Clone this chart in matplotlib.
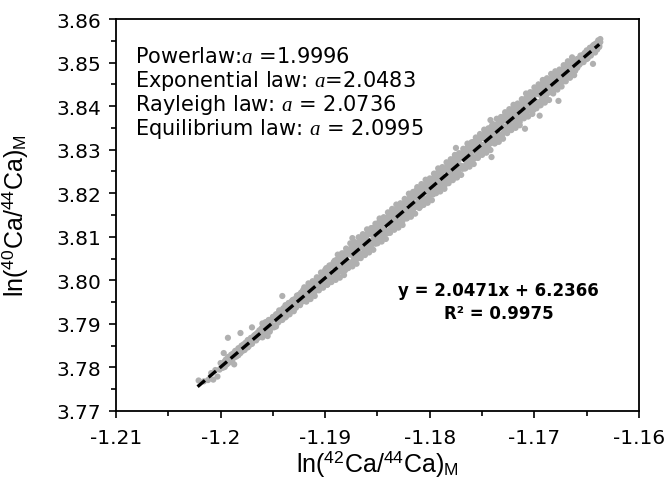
import numpy as np
import matplotlib
matplotlib.use('Agg')
import matplotlib.pyplot as plt
from matplotlib.ticker import MultipleLocator

# ---------------- data (values in units of 1e-4) ----------------
x_band_e4 = [
    -11996, -11995, -11994, -11993, -11992, -11991, -11990, -11989, -11988, -11987, -11986, -11985, -11984, -11983, -11982, -11981, -11980, -11979, -11978, -11977,
    -11976, -11975, -11974, -11973, -11972, -11971, -11970, -11969, -11968, -11967, -11966, -11965, -11964, -11963, -11962, -11961, -11960, -11959, -11958, -11957,
    -11956, -11955, -11954, -11953, -11952, -11951, -11950, -11949, -11948, -11947, -11946, -11945, -11944, -11943, -11942, -11941, -11940, -11939, -11938, -11937,
    -11936, -11935, -11934, -11933, -11932, -11931, -11930, -11929, -11928, -11927, -11926, -11925, -11924, -11923, -11922, -11921, -11920, -11919, -11918, -11917,
    -11916, -11915, -11914, -11913, -11912, -11911, -11910, -11909, -11908, -11907, -11906, -11905, -11904, -11903, -11902, -11901, -11900, -11899, -11898, -11897,
    -11896, -11895, -11894, -11893, -11892, -11891, -11890, -11889, -11888, -11887, -11886, -11885, -11884, -11883, -11882, -11881, -11880, -11879, -11878, -11877,
    -11876, -11875, -11874, -11873, -11872, -11871, -11870, -11869, -11868, -11867, -11866, -11865, -11864, -11863, -11862, -11861, -11860, -11859, -11858, -11857,
    -11856, -11855, -11854, -11853, -11852, -11851, -11850, -11849, -11848, -11847, -11846, -11845, -11844, -11843, -11842, -11841, -11840, -11839, -11838, -11837,
    -11836, -11835, -11834, -11833, -11832, -11831, -11830, -11829, -11828, -11827, -11826, -11825, -11824, -11823, -11822, -11821, -11820, -11819, -11818, -11817,
    -11816, -11815, -11814, -11813, -11812, -11811, -11810, -11809, -11808, -11807, -11806, -11805, -11804, -11803, -11802, -11801, -11800, -11799, -11798, -11797,
    -11796, -11795, -11794, -11793, -11792, -11791, -11790, -11789, -11788, -11787, -11786, -11785, -11784, -11783, -11782, -11781, -11780, -11779, -11778, -11777,
    -11776, -11775, -11774, -11773, -11772, -11771, -11770, -11769, -11768, -11767, -11766, -11765, -11764, -11763, -11762, -11761, -11760, -11759, -11758, -11757,
    -11756, -11755, -11754, -11753, -11752, -11751, -11750, -11749, -11748, -11747, -11746, -11745, -11744, -11743, -11742, -11741, -11740, -11739, -11738, -11737,
    -11736, -11735, -11734, -11733, -11732, -11731, -11730, -11729, -11728, -11727, -11726, -11725, -11724, -11723, -11722, -11721, -11720, -11719, -11718, -11717,
    -11716, -11715, -11714, -11713, -11712, -11711, -11710, -11709, -11708, -11707, -11706, -11705, -11704, -11703, -11702, -11701, -11700, -11699, -11698, -11697,
    -11696, -11695, -11694, -11693, -11692, -11691, -11690, -11689, -11688, -11687, -11686, -11685, -11684, -11683, -11682, -11681, -11680, -11679, -11678, -11677,
    -11676, -11675, -11674, -11673, -11672, -11671, -11670, -11669, -11668, -11667, -11666, -11665, -11664, -11663, -11662, -11661, -11660, -11659, -11658, -11657,
    -11656, -11655, -11654, -11653, -11652, -11651, -11650, -11649, -11648, -11647, -11646, -11645, -11644, -11643, -11642, -11641, -11640, -11639, -11638, -11637,
]
# first pass of readings along the band
y_band_a_e4 = [
    37814, 37810, 37807, 37818, 37824, 37815, 37822, 37816,
    37830, 37825, 37836, 37827, 37836, 37844, 37838, 37833, 37846, 37841, 37853, 37848, 37845, 37855, 37846, 37862, 37856, 37865, 37856, 37865, 37873, 37864,
    37870, 37878, 37868, 37881, 37875, 37883,
    37892, 37883, 37877, 37894, 37903, 37886, 37897, 37885, 37907, 37896, 37913, 37896, 37910, 37922, 37910,
    37903, 37923, 37913, 37931, 37922, 37916, 37931, 37915, 37940, 37929, 37942, 37926, 37940, 37952, 37936, 37942, 37955, 37937, 37956, 37944, 37958,
    37966, 37957, 37951, 37968, 37977, 37960, 37971, 37959, 37981, 37970, 37987, 37970, 37984, 37996, 37984, 37976, 37996, 37986, 38004, 37995, 37989, 38004,
    37989, 38014, 38002, 38019, 37997, 38015, 38030, 38008, 38016, 38032, 38007, 38032, 38016, 38033, 38042, 38029, 38020, 38043, 38054, 38031, 38044,
    38029, 38057, 38043, 38065, 38041, 38059, 38074, 38058, 38046, 38072, 38058, 38082, 38069, 38060, 38079, 38058, 38090, 38075, 38092, 38070, 38088,
    38104, 38082, 38090, 38106, 38081, 38106, 38090, 38107, 38116, 38103, 38094, 38117, 38128, 38105, 38118, 38102, 38130, 38116, 38138, 38114, 38132,
    38148, 38132, 38120, 38146, 38132, 38156, 38143, 38134, 38153, 38132, 38164, 38149, 38166, 38144, 38162, 38177, 38155, 38163, 38179, 38154, 38179, 38163,
    38181, 38190, 38177, 38168, 38191, 38202, 38179, 38192, 38176, 38204, 38190, 38212, 38188, 38206, 38221, 38205, 38193, 38219, 38205, 38229, 38216,
    38208, 38227, 38206, 38238, 38223, 38240, 38218, 38236, 38251, 38229, 38237, 38253, 38228, 38253, 38237, 38254, 38263, 38250, 38241, 38264, 38275,
    38253, 38266, 38250, 38278, 38264, 38286, 38262, 38280, 38295, 38279, 38267, 38293, 38279, 38303, 38290, 38281, 38300, 38279, 38311, 38296, 38313,
    38292, 38310, 38325, 38303, 38311, 38327, 38302, 38327, 38311, 38328, 38337, 38324, 38315, 38338, 38349, 38326, 38339, 38323, 38351, 38337, 38359, 38335,
    38354, 38369, 38353, 38341, 38367, 38353, 38377, 38364, 38355, 38374, 38353, 38385, 38370, 38387, 38365, 38383, 38398, 38376, 38384, 38400, 38375,
    38401, 38385, 38402, 38411, 38398, 38389, 38412, 38423, 38400, 38413, 38397, 38425, 38411, 38433, 38409, 38427, 38442, 38426, 38414, 38440, 38426,
    38447, 38438, 38432, 38447, 38431, 38456, 38445, 38458, 38442, 38456, 38468, 38452, 38458, 38471, 38453, 38472, 38460, 38474, 38481, 38472, 38466, 38483,
    38493, 38476, 38487, 38475, 38497, 38486, 38503, 38486, 38499, 38508, 38500, 38495, 38510, 38503, 38517, 38511, 38507, 38518, 38508, 38526, 38519,
    38530, 38519, 38530, 38539, 38528, 38533, 38543, 38530, 38544, 38536, 38547,
]
# second pass of readings along the band
y_band_b_e4 = [
    37801, 37818, 37810, 37824, 37811, 37821, 37829, 37814,
    37832, 37823, 37838, 37825, 37838, 37828, 37844, 37838, 37850, 37838, 37850, 37840, 37857, 37848, 37863, 37849, 37860, 37868, 37854, 37869, 37862, 37875,
    37862, 37879, 37870, 37885, 37877, 37889,
    37869, 37898, 37881, 37904, 37880, 37897, 37909, 37882, 37909, 37893, 37916, 37892, 37913, 37894, 37922,
    37910, 37931, 37908, 37928, 37909, 37936, 37919, 37943, 37918, 37935, 37948, 37922, 37947, 37934, 37955, 37929, 37957, 37939, 37965, 37948, 37967,
    37943, 37972, 37955, 37978, 37954, 37971, 37983, 37956, 37983, 37967, 37990, 37966, 37987, 37968, 37996, 37983, 38004, 37981, 38001, 37982, 38009, 37992,
    38017, 37992,
    38010, 38028, 37990, 38025, 38005, 38034, 37996, 38035, 38009, 38045, 38020, 38047, 38010, 38050, 38026, 38058, 38022, 38046, 38062,
    38023, 38061, 38037, 38070, 38035, 38064, 38036, 38075, 38056, 38084, 38051, 38078, 38050, 38088, 38063, 38097, 38060, 38083, 38101, 38063, 38098,
    38079, 38108, 38070, 38109, 38083, 38119, 38094, 38121, 38084, 38124, 38100, 38132, 38096, 38120, 38136, 38096, 38134, 38110, 38143, 38108, 38137,
    38110, 38149, 38130, 38158, 38125, 38152, 38124, 38162, 38137, 38171, 38134, 38157, 38175, 38137, 38172, 38152, 38181, 38143, 38182, 38156, 38192, 38167,
    38195, 38158, 38198, 38174, 38206, 38170, 38194, 38210, 38170, 38208, 38184, 38217, 38182, 38211, 38183, 38222, 38203, 38231, 38198, 38225, 38197,
    38236, 38211, 38245, 38208, 38231, 38249, 38211, 38246, 38226, 38255, 38217, 38256, 38230, 38266, 38241, 38268, 38231, 38271, 38247, 38279, 38243,
    38268, 38284, 38244, 38282, 38258, 38291, 38256, 38285, 38257, 38296, 38277, 38305, 38272, 38299, 38271, 38309, 38284, 38318, 38281, 38304, 38322,
    38285, 38320, 38300, 38329, 38291, 38330, 38304, 38340, 38315, 38342, 38305, 38345, 38321, 38353, 38317, 38341, 38357, 38317, 38355, 38331, 38364, 38329,
    38359, 38331, 38370, 38351, 38379, 38346, 38373, 38345, 38383, 38358, 38392, 38355, 38378, 38396, 38358, 38393, 38373, 38402, 38364, 38403, 38377,
    38414, 38389, 38416, 38379, 38419, 38395, 38427, 38391, 38415, 38431, 38391, 38429, 38405, 38438, 38403, 38428, 38402, 38439, 38424, 38452, 38419,
    38444, 38424, 38453, 38434, 38461, 38433, 38451, 38465, 38437, 38464, 38449, 38472, 38443, 38473, 38454, 38482, 38463, 38484, 38457, 38488, 38470, 38495,
    38469, 38488, 38500, 38470, 38500, 38482, 38507, 38481,
    38502, 38488, 38509, 38500, 38516, 38500, 38515, 38501, 38522, 38510, 38528, 38510, 38523,
    38534, 38516, 38535, 38525, 38541, 38523, 38544, 38531, 38551, 38539, 38554,
]
# third pass: outer edge of the band in the dense middle part
x_edge_e4 = [
    -11920, -11918, -11916, -11914, -11912, -11910, -11908, -11906, -11904, -11902, -11900, -11898, -11896, -11894, -11892, -11890, -11888, -11886, -11884, -11882,
    -11880, -11878, -11876, -11874, -11872, -11870, -11868, -11866, -11864, -11862, -11860, -11858, -11856, -11854, -11852, -11850, -11848, -11846, -11844, -11842,
    -11840, -11838, -11836, -11834, -11832, -11830, -11828, -11826, -11824, -11822, -11820, -11818, -11816, -11814, -11812, -11810, -11808, -11806, -11804, -11802,
    -11800, -11798, -11796, -11794, -11792, -11790, -11788, -11786, -11784, -11782, -11780, -11778, -11776, -11774, -11772, -11770, -11768, -11766, -11764, -11762,
    -11760, -11758, -11756, -11754, -11752, -11750, -11748, -11746, -11744, -11742, -11740, -11738, -11736, -11734, -11732, -11730, -11728, -11726, -11724, -11722,
    -11720, -11718, -11716, -11714, -11712, -11710, -11708, -11706, -11704, -11702, -11700, -11698, -11696, -11694, -11692, -11690, -11688, -11686, -11684, -11682,
    -11680, -11678, -11676, -11674, -11672, -11670, -11668, -11666, -11664, -11662,
]
y_edge_e4 = [
    37984, 37951, 37993, 37957, 37998, 37964, 38007, 37977, 38018, 37983, 38024, 37990, 38034, 38001, 38041, 38001, 38059, 38006, 38062, 38012,
    38073, 38028, 38085, 38032, 38088, 38038, 38099, 38051, 38106, 38058, 38117, 38064, 38120, 38070, 38130, 38085, 38142, 38089, 38145, 38095,
    38156, 38109, 38164, 38116, 38174, 38121, 38177, 38127, 38187, 38142, 38199, 38146, 38203, 38153, 38214, 38166, 38221, 38173, 38231, 38178,
    38234, 38184, 38245, 38200, 38257, 38204, 38260, 38210, 38271, 38223, 38278, 38230, 38288, 38236, 38292, 38242, 38302, 38257, 38314, 38261,
    38317, 38267, 38328, 38281, 38336, 38288, 38346, 38293, 38349, 38299, 38359, 38314, 38371, 38318, 38375, 38325, 38386, 38338, 38393, 38345,
    38403, 38350, 38406, 38356, 38416, 38372, 38429, 38376, 38432, 38382, 38443, 38395, 38450, 38402, 38460, 38408, 38464, 38414, 38474, 38429,
    38480, 38438, 38484, 38445, 38494, 38457, 38503, 38465, 38512, 38471,
]
x_low_e4 = [-12021, -12016, -12012, -12009, -12007, -12005, -12003, -12001, -12000, -11998,
            -11997, -11993, -11987, -11981, -11970, -11960, -11955]
y_low_e4 = [37770, 37768, 37771, 37787, 37772, 37794, 37779, 37795, 37810, 37799,
            37833, 37868, 37807, 37879, 37892, 37901, 37872]
x_out_e4 = [-11941, -11874, -11775, -11742, -11741, -11709, -11695, -11677, -11644]
y_out_e4 = [37964, 38097, 38304, 38368, 38283, 38348, 38378, 38412, 38497]

fit_slope = 2.0471
fit_intercept = 6.2366
fit_x_range = [-1.2022, -1.1638]

x_ticks = [-1.21, -1.20, -1.19, -1.18, -1.17, -1.16]
x_ticklabels = ['-1.21', '-1.2', '-1.19', '-1.18', '-1.17', '-1.16']
y_ticks = [3.77, 3.78, 3.79, 3.80, 3.81, 3.82, 3.83, 3.84, 3.85, 3.86]
y_ticklabels = ['3.77', '3.78', '3.79', '3.80', '3.81', '3.82', '3.83', '3.84', '3.85', '3.86']

law_lines = ['Powerlaw:$a$ =1.9996',
             'Exponential law: $a$=2.0483',
             'Rayleigh law: $a$ = 2.0736',
             'Equilibrium law: $a$ = 2.0995']
eq_line1 = 'y = 2.0471x + 6.2366'
eq_line2 = 'R² = 0.9975'

# ---------------- figure ----------------
plt.rcParams['mathtext.fontset'] = 'custom'
plt.rcParams['mathtext.rm'] = 'Liberation Sans'
plt.rcParams['mathtext.it'] = 'Liberation Serif:italic'
plt.rcParams['mathtext.bf'] = 'Liberation Sans:bold'
plt.rcParams['font.family'] = ['Liberation Sans', 'DejaVu Sans']

fig = plt.figure(figsize=(6.72, 4.81), dpi=100)
ax = fig.add_axes([0.1726, 0.1435, 0.7783, 0.8149])

x_all = np.array(x_low_e4 + x_band_e4 + x_band_e4 + x_edge_e4 + x_out_e4) / 1e4
y_all = np.array(y_low_e4 + y_band_a_e4 + y_band_b_e4 + y_edge_e4 + y_out_e4) / 1e4
ax.scatter(x_all, y_all, s=20, c='#b0b0b0', edgecolors='none', zorder=2)

fx = np.array(fit_x_range)
ax.plot(fx, fit_slope * fx + fit_intercept, color='black', lw=2.4,
        ls=(0, (2.9, 1.45)), zorder=3)

ax.set_xlim(-1.21, -1.16)
ax.set_ylim(3.77, 3.86)
ax.set_xticks(x_ticks)
ax.set_xticklabels(x_ticklabels)
ax.set_yticks(y_ticks)
ax.set_yticklabels(y_ticklabels)
ax.xaxis.set_minor_locator(MultipleLocator(0.005))
ax.yaxis.set_minor_locator(MultipleLocator(0.005))
ax.tick_params(which='major', direction='out', length=5, width=1.2,
               labelsize=14.5, pad=5.5)
ax.tick_params(which='minor', direction='out', length=3.5, width=1.2)
ax.tick_params(axis='x', which='major', pad=7)
for lab in ax.get_xticklabels() + ax.get_yticklabels():
    lab.set_family('DejaVu Sans')
for sp in ax.spines.values():
    sp.set_linewidth(1.3)

ax.set_xlabel('ln($^{42}$Ca/$^{44}$Ca)$_{\\mathrm{M}}$', fontsize=18, labelpad=1)
ax.set_ylabel('ln($^{40}$Ca/$^{44}$Ca)$_{\\mathrm{M}}$', fontsize=18)
ax.yaxis.set_label_coords(-0.165, 0.5)

# text block baselines (axes fraction)
law_y = [0.890, 0.829, 0.768, 0.707]
for txt, yy in zip(law_lines, law_y):
    ax.text(0.0363, yy, txt, transform=ax.transAxes, fontsize=15,
            family='DejaVu Sans', ha='left', va='baseline')

ax.text(0.732, 0.3087, eq_line1, transform=ax.transAxes, fontsize=12,
        fontweight='bold', family='DejaVu Sans', ha='center', va='center')
ax.text(0.732, 0.25, eq_line2, transform=ax.transAxes, fontsize=12,
        fontweight='bold', family='DejaVu Sans', ha='center', va='center')

fig.savefig('out.png', dpi=100)
